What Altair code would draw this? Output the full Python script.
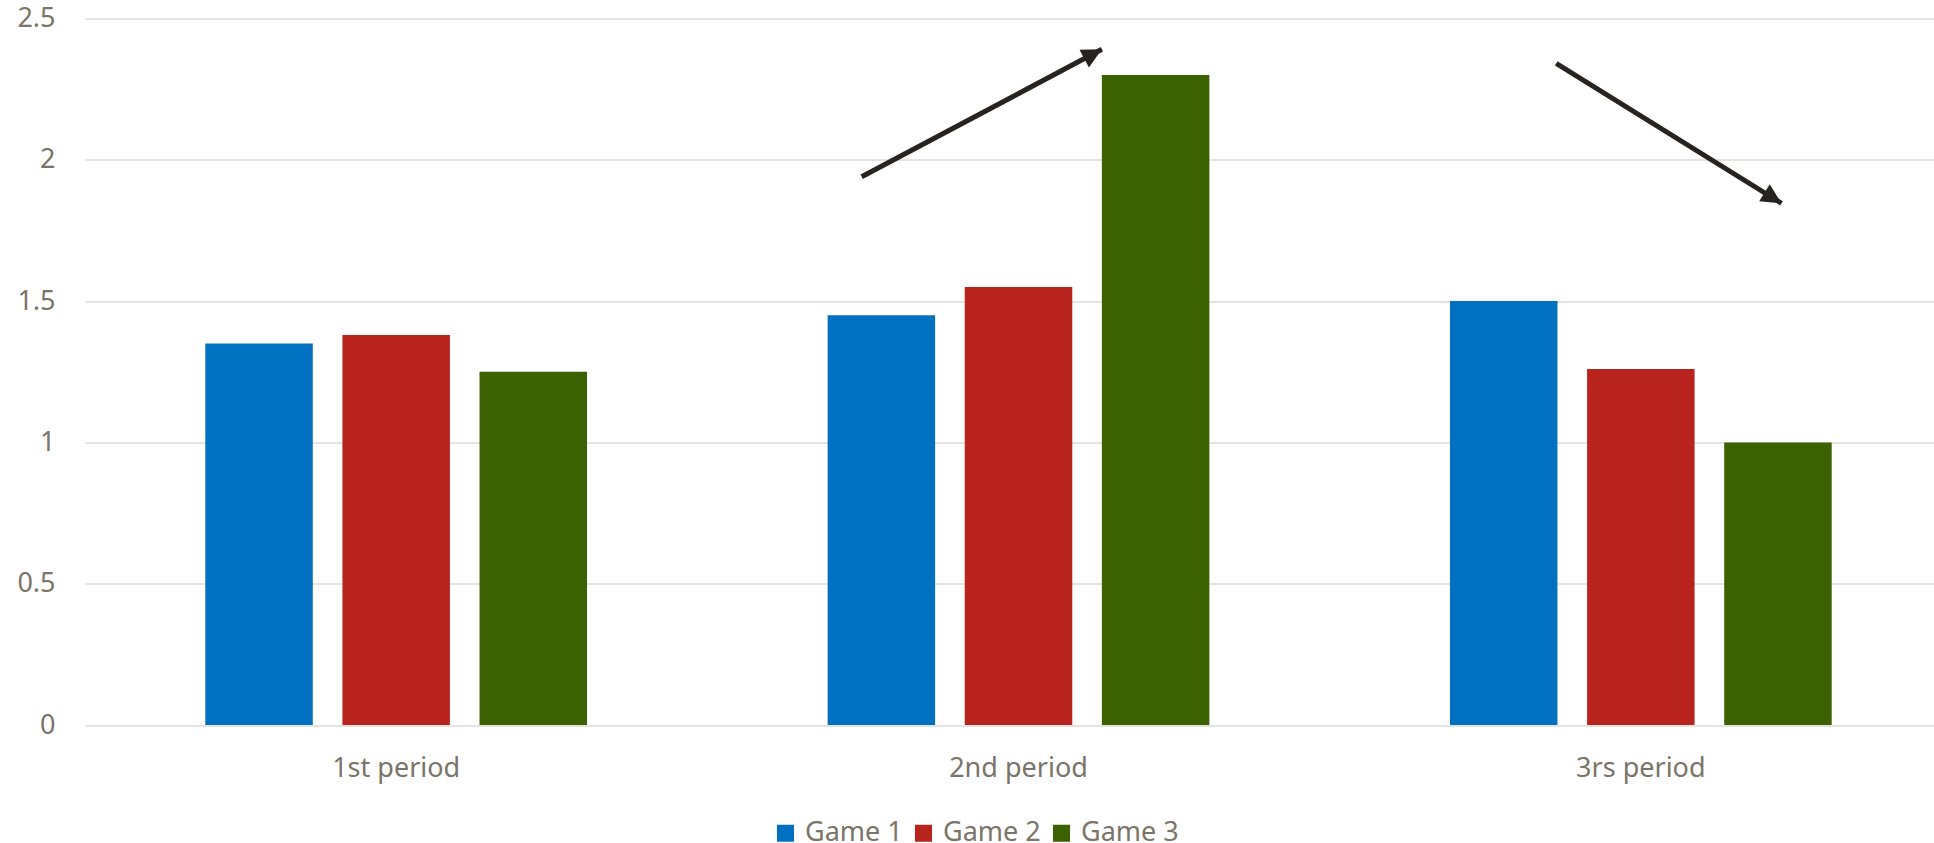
import altair as alt
import pandas as pd

# Goals per period for three games
periods = ["1st period", "2nd period", "3rs period"]
games = ["Game 1", "Game 2", "Game 3"]
game1 = [1.35, 1.45, 1.50]
game2 = [1.38, 1.55, 1.26]
game3 = [1.25, 2.30, 1.00]
colors = ["#0070C0", "#B9231E", "#3B6100"]

# Trend arrows, in period units along x (0..3) and value units along y
arrow_x = [1.248, 2.364]
arrow_y = [1.94, 2.341]
arrow_x2 = [1.634, 2.726]
arrow_y2 = [2.391, 1.846]
arrow_angle = [62.0, 121.8]

rows = []
for g, vals in zip(games, [game1, game2, game3]):
    for p, v in zip(periods, vals):
        rows.append({"period": p, "game": g, "value": v})
bars_df = pd.DataFrame(rows)

arrows_df = pd.DataFrame({
    "x": arrow_x, "y": arrow_y, "x2": arrow_x2, "y2": arrow_y2, "angle": arrow_angle
})

FONT = "Noto Sans"
TEXT = "#7b7468"
GRID = "#dcdad6"
PLOT_W = 1849
BAND_RANGE = 1867

y_scale = alt.Scale(domain=[0, 2.5], nice=False)
y_axis = alt.Axis(values=[0, 0.5, 1, 1.5, 2, 2.5], format="~g", labelFont=FONT,
                  labelFontSize=27, labelColor=TEXT, ticks=False, domain=False,
                  labelPadding=30, gridColor=GRID, gridWidth=1.5, title=None)

bars = alt.Chart(bars_df).mark_bar().encode(
    x=alt.X(
        "period:N", sort=periods, title=None,
        scale=alt.Scale(range=[0, BAND_RANGE], paddingInner=0.3866, paddingOuter=0.1933),
        axis=alt.Axis(labelAngle=0, labelFont=FONT, labelFontSize=27, labelColor=TEXT,
                      ticks=False, domain=False, labelPadding=30, grid=False),
    ),
    xOffset=alt.XOffset("game:N", sort=games,
                        scale=alt.Scale(paddingInner=0.216, paddingOuter=0)),
    y=alt.Y("value:Q", scale=y_scale, title=None, axis=y_axis),
    color=alt.Color(
        "game:N", sort=games, scale=alt.Scale(domain=games, range=colors), title=None,
        legend=alt.Legend(orient="none", direction="horizontal", legendX=687, legendY=801,
                          symbolType="square", symbolSize=289, symbolStrokeWidth=0,
                          labelFont=FONT, labelFontSize=27, labelColor=TEXT,
                          labelOffset=6, columnPadding=7, padding=0),
    ),
)

x_q = alt.Scale(domain=[0, 3], range=[0, BAND_RANGE], nice=False, zero=False)

shafts = alt.Chart(arrows_df).mark_rule(color="#262320", strokeWidth=5).encode(
    x=alt.X("x:Q", scale=x_q, axis=None),
    y=alt.Y("y:Q", scale=y_scale, title=None, axis=y_axis),
    x2="x2:Q",
    y2="y2:Q",
)

heads = alt.Chart(arrows_df).mark_point(
    shape="M0,0L0.5,1L-0.5,1Z", filled=True, color="#262320", opacity=1, size=1600
).encode(
    x=alt.X("x2:Q", scale=x_q, axis=None),
    y=alt.Y("y2:Q", scale=y_scale, title=None, axis=y_axis),
    angle=alt.Angle("angle:Q", scale=None),
)

chart = alt.layer(bars, shafts, heads).resolve_scale(x="independent").properties(
    width=PLOT_W,
    height=706.5,
    padding={"left": 85, "top": 18.5, "right": 0, "bottom": 118},
    autosize=alt.AutoSizeParams(type="none"),
    background="white",
).configure_view(stroke=None)

chart.save("out.html", embed_options={"renderer": "svg", "actions": False})
